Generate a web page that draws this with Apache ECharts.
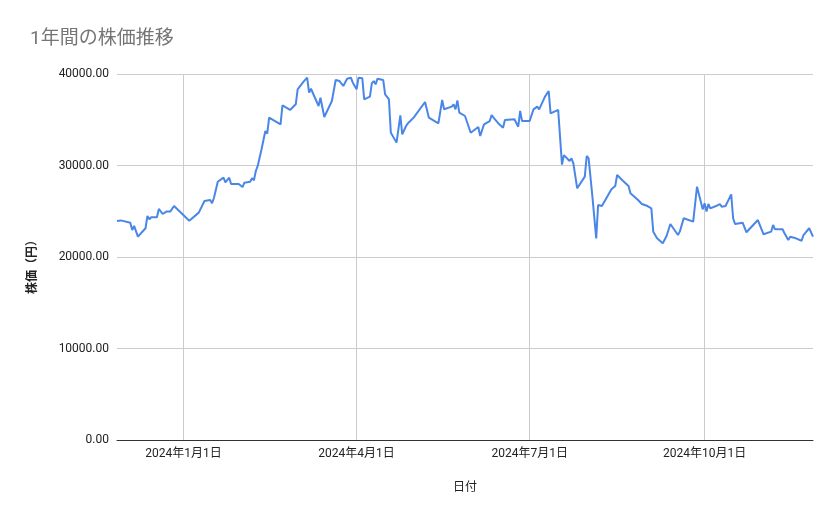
<!DOCTYPE html>
<html>
<head>
<meta charset="utf-8">
<script src="https://cdn.jsdelivr.net/npm/echarts@6/dist/echarts.min.js"></script>
<style>
  html, body { margin: 0; padding: 0; background: #fff; }
  #main { width: 839px; height: 519px; }
</style>
</head>
<body>
<div id="main"></div>
<script>
// 日付と株価
var dates = [
    '2023-11-27', '2023-11-29', '2023-12-04', '2023-12-05', '2023-12-06', '2023-12-08',
    '2023-12-12', '2023-12-13', '2023-12-14', '2023-12-15', '2023-12-18', '2023-12-19',
    '2023-12-20', '2023-12-21', '2023-12-23', '2023-12-25', '2023-12-27',
    '2024-01-04', '2024-01-09', '2024-01-12', '2024-01-15', '2024-01-16', '2024-01-17',
    '2024-01-19', '2024-01-22', '2024-01-23', '2024-01-25', '2024-01-26', '2024-01-30',
    '2024-02-01', '2024-02-02', '2024-02-05', '2024-02-06', '2024-02-07', '2024-02-08',
    '2024-02-09', '2024-02-11', '2024-02-13', '2024-02-14', '2024-02-15', '2024-02-16',
    '2024-02-21', '2024-02-22', '2024-02-26', '2024-02-29',
    '2024-03-01', '2024-03-04', '2024-03-06', '2024-03-07', '2024-03-08', '2024-03-12',
    '2024-03-13', '2024-03-14', '2024-03-15', '2024-03-19', '2024-03-21', '2024-03-23',
    '2024-03-25', '2024-03-27', '2024-03-28', '2024-03-29', '2024-03-30',
    '2024-04-01', '2024-04-02', '2024-04-04', '2024-04-05', '2024-04-08', '2024-04-09',
    '2024-04-10', '2024-04-11', '2024-04-12', '2024-04-15', '2024-04-16', '2024-04-18',
    '2024-04-19', '2024-04-22', '2024-04-23', '2024-04-24', '2024-04-25', '2024-04-27',
    '2024-04-28', '2024-05-01', '2024-05-02', '2024-05-07', '2024-05-09', '2024-05-14',
    '2024-05-16', '2024-05-17', '2024-05-21', '2024-05-22', '2024-05-23', '2024-05-24',
    '2024-05-25', '2024-05-28', '2024-05-31',
    '2024-06-04', '2024-06-05', '2024-06-07', '2024-06-10', '2024-06-11', '2024-06-12',
    '2024-06-15', '2024-06-17', '2024-06-18', '2024-06-23', '2024-06-25', '2024-06-26',
    '2024-06-27',
    '2024-07-01', '2024-07-03', '2024-07-05', '2024-07-06', '2024-07-09', '2024-07-11',
    '2024-07-12', '2024-07-16', '2024-07-18', '2024-07-19', '2024-07-22', '2024-07-23',
    '2024-07-24', '2024-07-26', '2024-07-30', '2024-07-31',
    '2024-08-01', '2024-08-03', '2024-08-05', '2024-08-06', '2024-08-08', '2024-08-13',
    '2024-08-14', '2024-08-15', '2024-08-16', '2024-08-19', '2024-08-20', '2024-08-22',
    '2024-08-23', '2024-08-27', '2024-08-29',
    '2024-09-01', '2024-09-03', '2024-09-04', '2024-09-06', '2024-09-09', '2024-09-11',
    '2024-09-13', '2024-09-17', '2024-09-18', '2024-09-20', '2024-09-25', '2024-09-27',
    '2024-09-30',
    '2024-10-01', '2024-10-02', '2024-10-03', '2024-10-04', '2024-10-07', '2024-10-08',
    '2024-10-09', '2024-10-10', '2024-10-12', '2024-10-15', '2024-10-16', '2024-10-17',
    '2024-10-21', '2024-10-23', '2024-10-29', '2024-10-30',
    '2024-11-01', '2024-11-05', '2024-11-06', '2024-11-07', '2024-11-11', '2024-11-12',
    '2024-11-13', '2024-11-14', '2024-11-15', '2024-11-18', '2024-11-21', '2024-11-22',
    '2024-11-25', '2024-11-27'
];
var prices = [
    23930, 24000, 23750, 22950, 23400, 22220,
    23140, 24480, 24120, 24340, 24340, 25250,
    25210, 24700, 24960, 24960, 25570,
    23970, 24850, 26120, 26230, 25870, 26480,
    28230, 28670, 28160, 28670, 27980, 27980,
    27640, 28120, 28230, 28600, 28380, 29400,
    29950, 31770, 33770, 33480, 35230, 35330,
    34500, 36580, 36070, 36690,
    38330, 39130, 39600, 37960, 38390, 36500,
    37410, 37230, 35300, 37050, 39340, 39230,
    38690, 39490, 39310, 39600, 39050,
    38330, 39600, 39530, 37230, 37520, 38980,
    39230, 38870, 39490, 39340, 37780, 37230,
    33580, 32500, 32420, 35480, 33410, 34320,
    34610, 35230, 35050, 36940, 35230, 34610,
    37160, 36140, 36430, 36690, 36140, 37120,
    35770, 35410, 33580,
    34210, 33220, 34500, 34860, 35520, 35230,
    34500, 34130, 34970, 35050, 34240, 35960,
    34860,
    34860, 36140, 36430, 36140, 37500, 38140,
    35700, 36070, 30100, 31130, 30500, 30790,
    30200, 27510, 28780, 31040,
    30790, 26590, 22040, 25680, 25570, 27400,
    27250, 27760, 28960, 28340, 28490, 27760,
    26960, 26230, 25790,
    25570, 25320, 22770, 22040, 21500, 22290,
    23610, 22400, 22800, 24230, 23860, 27680,
    25210,
    25870, 24960, 25790, 25320, 25570, 25430,
    25790, 25500, 25570, 26850, 24230, 23610,
    23750, 22700, 24040, 23960,
    22480, 22770, 23500, 23030, 23030, 22590,
    22770, 21860, 22220, 22040, 21780, 22400,
    23140, 22220
];
// 横軸の目盛り（四半期の初日）
var tickDates = ['2024-01-01', '2024-04-01', '2024-07-01', '2024-10-01'];

function toTime(s) {
    var p = s.split('-');
    return new Date(+p[0], +p[1] - 1, +p[2]).getTime();
}

var seriesData = dates.map(function (d, i) {
    return [toTime(d), prices[i]];
});
var tickValues = tickDates.map(toTime);

var myChart = echarts.init(document.getElementById('main'));
myChart.setOption({
    backgroundColor: '#fff',
    animation: false,
    textStyle: {
        fontFamily: 'Roboto, "Liberation Sans", "Noto Sans CJK JP", sans-serif'
    },
    title: {
        text: '1年間の株価推移',
        left: 25,
        top: 25,
        textStyle: {
            color: '#757575',
            fontSize: 19,
            fontWeight: 'normal',
            fontFamily: 'Roboto, "Noto Sans CJK JP", sans-serif'
        }
    },
    grid: {
        left: 117,
        right: 26,
        top: 74,
        bottom: 79,
        containLabel: false
    },
    xAxis: {
        type: 'value',
        min: toTime(dates[0]),
        max: toTime(dates[dates.length - 1]),
        name: '日付',
        nameLocation: 'middle',
        nameGap: 40,
        nameTextStyle: {
            color: '#222',
            fontSize: 12,
            fontFamily: '"Noto Sans CJK JP", sans-serif'
        },
        axisLine: {
            show: true,
            onZero: false,
            lineStyle: { color: '#333', width: 1 }
        },
        axisTick: {
            show: false,
            customValues: tickValues
        },
        axisLabel: {
            customValues: tickValues,
            color: '#222',
            fontSize: 12,
            margin: 8,
            formatter: function (v) {
                var d = new Date(v);
                return d.getFullYear() + '年' + (d.getMonth() + 1) + '月' + d.getDate() + '日';
            }
        },
        splitLine: {
            show: true,
            lineStyle: { color: '#cccccc', width: 1 }
        }
    },
    yAxis: {
        type: 'value',
        min: 0,
        max: 40000,
        interval: 10000,
        name: '株価（円）',
        nameLocation: 'middle',
        nameGap: 80,
        nameRotate: 90,
        nameTextStyle: {
            color: '#222',
            fontSize: 12,
            fontWeight: 'bold',
            padding: [0, 14, 0, 0],
            fontFamily: '"Noto Sans CJK JP", sans-serif'
        },
        axisLine: { show: false },
        axisTick: { show: false },
        axisLabel: {
            color: '#222',
            fontSize: 12,
            margin: 8,
            formatter: function (v) { return v.toFixed(2); }
        },
        splitLine: {
            show: true,
            lineStyle: { color: '#cccccc', width: 1 }
        }
    },
    series: [{
        type: 'line',
        data: seriesData,
        showSymbol: false,
        symbol: 'none',
        lineStyle: { color: '#4a86e8', width: 2 },
        itemStyle: { color: '#4a86e8' }
    }]
});
</script>
</body>
</html>
